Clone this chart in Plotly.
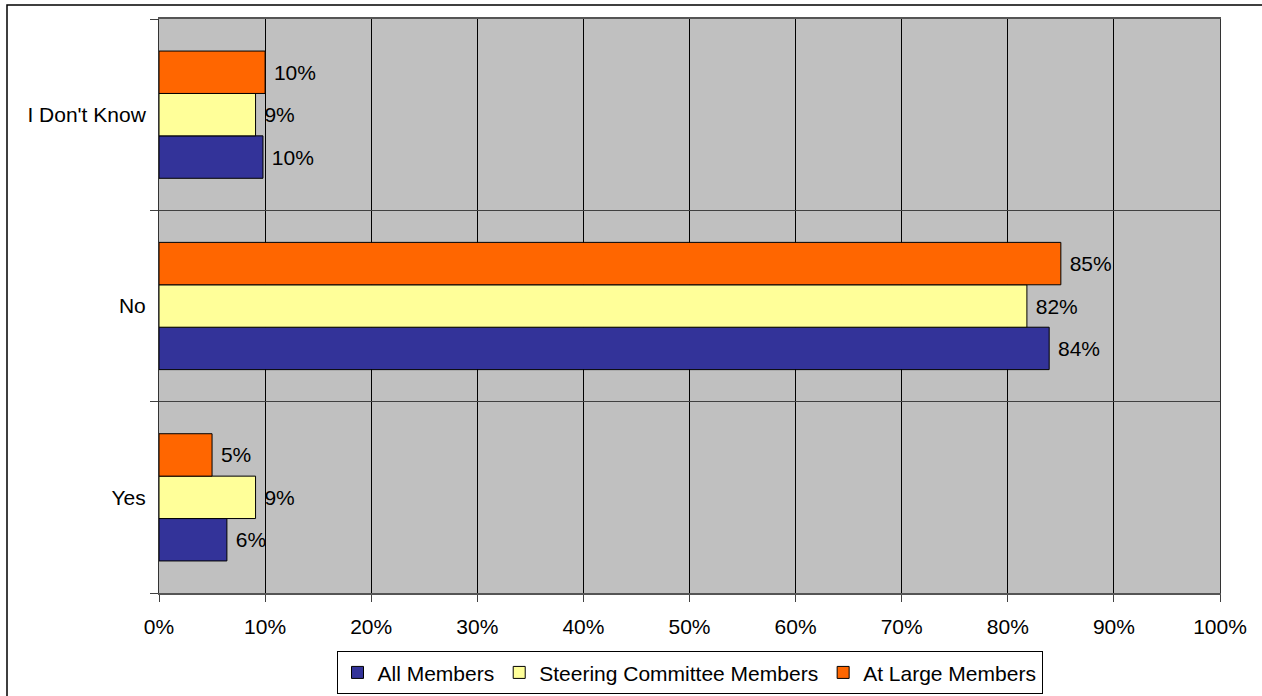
import plotly.graph_objects as go

categories = ["Yes", "No", "I Don't Know"]
all_members = [0.064, 0.839, 0.098]
steering = [0.091, 0.818, 0.091]
at_large = [0.050, 0.850, 0.100]
series_names = ["All Members", "Steering Committee Members", "At Large Members"]
colors = ["#333399", "#FFFF99", "#FF6600"]
x_ticks = [i / 10 for i in range(11)]
x_tick_labels = [f"{i*10}%" for i in range(11)]

FONT = "Liberation Sans, Arial, sans-serif"
FS = 21

fig = go.Figure()
for name, vals, col in zip(series_names, [all_members, steering, at_large], colors):
    fig.add_trace(go.Bar(
        y=categories, x=vals, name=name, orientation="h",
        marker=dict(color=col, line=dict(color="black", width=1)),
        texttemplate="\u00a0%{x:.0%}", textposition="outside",
        textfont=dict(color="black", size=FS, family=FONT),
        cliponaxis=False,
    ))

fig.update_layout(
    width=1262, height=696,
    margin=dict(l=159, r=42, t=19, b=103, autoexpand=False),
    paper_bgcolor="white", plot_bgcolor="#C0C0C0",
    barmode="group", bargap=0.335, bargroupgap=0,
    font=dict(family=FONT, size=FS, color="black"),
    showlegend=True,
    legend=dict(
        orientation="h", x=0.5, xanchor="center", y=-0.1015, yanchor="top",
        bordercolor="black", borderwidth=1, bgcolor="white",
        font=dict(size=FS, family=FONT), traceorder="normal",
        itemwidth=30, tracegroupgap=0,
    ),
    xaxis=dict(
        range=[0, 1], tickvals=x_ticks, ticktext=x_tick_labels,
        showgrid=True, gridcolor="black", gridwidth=1,
        ticks="outside", ticklen=7, tickcolor="#404040",
        showline=True, linecolor="#555555", linewidth=2, mirror=True,
        zeroline=False, ticklabelstandoff=7,
    ),
    yaxis=dict(
        type="category", categoryorder="array", categoryarray=categories,
        tickson="boundaries", showgrid=True, gridcolor="#404040", gridwidth=1,
        ticks="outside", ticklen=8, tickcolor="#404040",
        showline=True, linecolor="#333333", linewidth=1, mirror=True,
        ticklabelstandoff=8,
    ),
    shapes=[dict(type="rect", xref="paper", yref="paper",
                 x0=(7 - 159) / 1061, x1=(1300 - 159) / 1061,
                 y0=(593 - 730) / 574, y1=(593 - 5) / 574,
                 line=dict(color="black", width=1.5), fillcolor="rgba(0,0,0,0)",
                 layer="below")],
)

fig.write_html("out.html", config={"displayModeBar": False},
               post_script="document.body.style.margin='0';")
